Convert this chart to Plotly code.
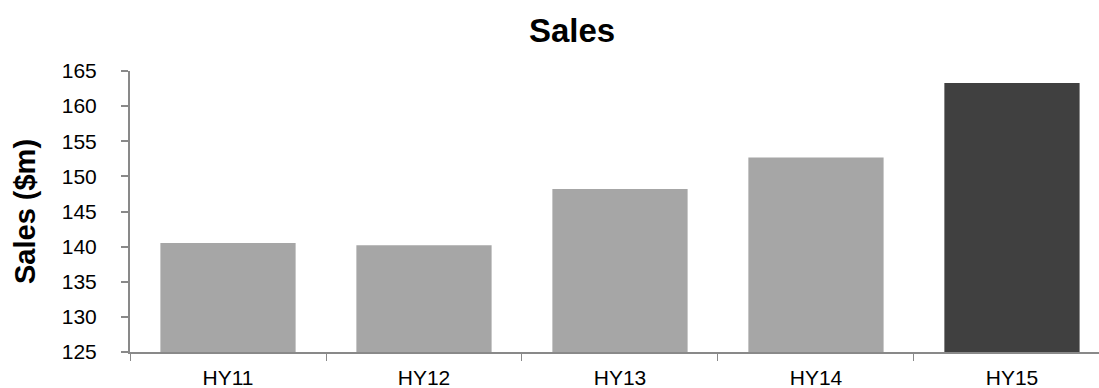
import plotly.graph_objects as go

categories = ["HY11", "HY12", "HY13", "HY14", "HY15"]
sales = [140.5, 140.2, 148.2, 152.7, 163.3]
bar_colors = ["#A6A6A6", "#A6A6A6", "#A6A6A6", "#A6A6A6", "#404040"]
y_ticks = [125, 130, 135, 140, 145, 150, 155, 160, 165]

FONT = "Liberation Sans, Arial, sans-serif"

fig = go.Figure(
    go.Bar(
        x=categories,
        y=sales,
        marker=dict(color=bar_colors, line=dict(width=0)),
        width=0.69,
    )
)

fig.update_layout(
    width=1099,
    height=388,
    margin=dict(l=130, r=0, t=71, b=36),
    paper_bgcolor="white",
    plot_bgcolor="white",
    showlegend=False,
    title=dict(
        text="<b>Sales</b>",
        font=dict(family=FONT, size=33, color="black"),
        x=572 / 1099,
        xanchor="center",
        y=1 - 30 / 388,
        yanchor="middle",
    ),
    font=dict(family=FONT, color="black"),
)

fig.update_xaxes(
    type="category",
    range=[-0.5, 4.444],
    showline=True,
    linecolor="#898989",
    linewidth=2,
    ticks="outside",
    tickson="boundaries",
    ticklen=7,
    tickcolor="#898989",
    tickwidth=1,
    tickfont=dict(family=FONT, size=21, color="black"),
    ticklabelstandoff=6,
    showgrid=False,
    zeroline=False,
)

fig.update_yaxes(
    range=[125, 165],
    tickvals=y_ticks,
    showline=True,
    linecolor="#898989",
    linewidth=2,
    ticks="outside",
    ticklen=7,
    tickcolor="#898989",
    tickwidth=2,
    tickfont=dict(family=FONT, size=21, color="black"),
    ticklabelstandoff=20,
    showgrid=False,
    zeroline=False,
    title=dict(
        text="<b>Sales ($m)</b>",
        font=dict(family=FONT, size=29, color="black"),
        standoff=18,
    ),
)

fig.write_html("out.html")
